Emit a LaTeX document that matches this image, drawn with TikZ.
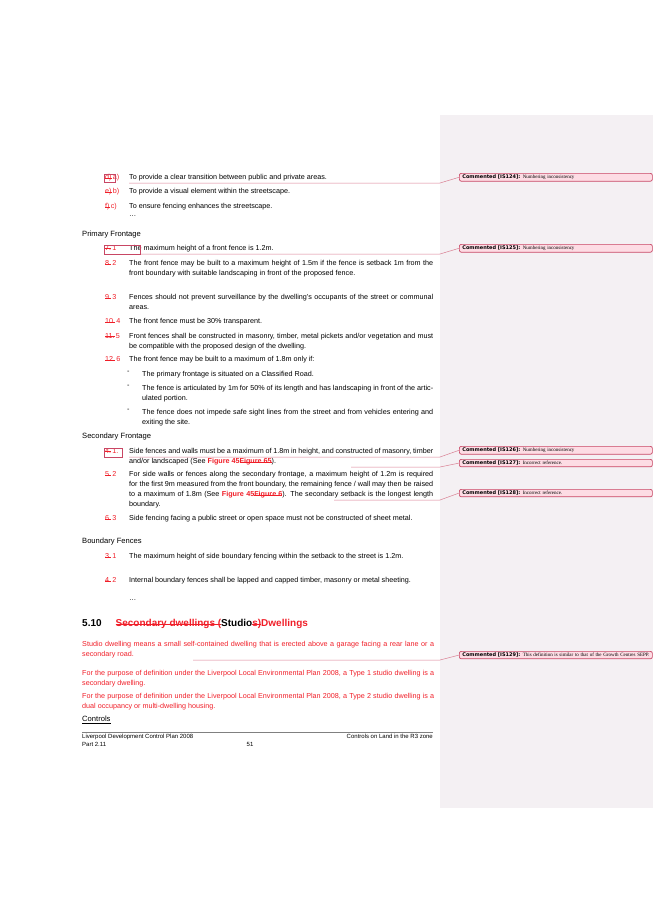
\documentclass[tikz,border=0pt]{standalone}
\usepackage{fontspec}
\setmainfont{Liberation Sans}
\newfontfamily\noteserif{Liberation Serif}
\newfontfamily\notesans{DejaVu Sans}
\usepackage{xcolor}
\definecolor{notered}{RGB}{200,70,100}
\definecolor{notefill}{RGB}{253,220,228}
\definecolor{panel}{RGB}{244,240,243}
\definecolor{trackred}{RGB}{240,30,40}
\newsavebox{\delbox}
\newcommand*{\strike}[1]{\sbox{\delbox}{#1}\rlap{\usebox{\delbox}}\rule[0.33ex]{\wd\delbox}{0.45pt}}
\newcommand*{\del}[1]{\textcolor{trackred}{\strike{#1}}}
\newcommand*{\ins}[1]{\textcolor{trackred}{#1}}
\newcommand*{\figref}[2]{\textcolor{trackred}{\textbf{#1}\strike{\textbf{#2}}}}

\begin{document}
\begin{tikzpicture}[x=1pt,y=-1pt,
  txt/.style={anchor=north west,inner sep=0pt,text width=304pt,align=justify,font=\fontsize{7.2}{10}\selectfont},
  subtxt/.style={txt,text width=291pt},
  num/.style={anchor=north west,inner sep=0pt,font=\fontsize{7.2}{10}\selectfont},
  head/.style={anchor=north west,inner sep=0pt,font=\fontsize{7.6}{10}\selectfont},
  note/.style={draw=notered,fill=notefill,rounded corners=2pt,line width=0.7pt,anchor=north west,
    text width=187pt,inner xsep=3pt,inner ysep=1.5pt,align=left,font=\fontsize{5}{6.5}\noteserif},
  link/.style={draw=notered!70,line width=0.5pt}]
\useasboundingbox(0,0)rectangle(653,923);
%\draw[help lines](0,0)grid[step=50](653,923);
\fill[panel](440,115)rectangle(653,808);

% objectives
\node[num](na)at(105,174){\del{d)}\,\ins{a)}};
\node[txt](ta)at(129,174){To provide a clear transition between public and private areas.};
\node[num](nb)at(105,188){\del{e)}\,\ins{b)}};
\node[txt](tb)at(129,188){To provide a visual element within the streetscape.};
\node[num](nc)at(105,203){\del{f)}\,\ins{c)}};
\node[txt](tc)at(129,203){To ensure fencing enhances the streetscape.};
\node[num](dots1)at(129,215){\dots};

% primary frontage
\node[head](hp)at(82,231){Primary Frontage};
\node[num](p1)at(105,245){\del{7.}\,\ins{1}};
\node[txt](tp1)at(129,245){The maximum height of a front fence is 1.2m.};
\node[num](p2)at(105,260){\del{8.}\,\ins{2}};
\node[txt](tp2)at(129,260){The front fence may be built to a maximum height of 1.5m if the fence is setback 1m from the front boundary with suitable landscaping in front of the proposed fence.};
\node[num](p3)at(105,294){\del{9.}\,\ins{3}};
\node[txt](tp3)at(129,294){Fences should not prevent surveillance by the dwelling's occupants of the street or communal areas.};
\node[num](p4)at(105,318){\del{10.}\,\ins{4}};
\node[txt](tp4)at(129,318){The front fence must be 30\% transparent.};
\node[num](p5)at(105,333){\del{11.}\,\ins{5}};
\node[txt](tp5)at(129,333){Front fences shall be constructed in masonry, timber, metal pickets and/or vegetation and must be compatible with the proposed design of the dwelling.};
\node[num](p6)at(105,356){\del{12.}\,\ins{6}};
\node[txt](tp6)at(129,356){The front fence may be built to a maximum of 1.8m only if:};
\foreach\y/\t in{371/{The primary frontage is situated on a Classified Road.},
  385/{The fence is articulated by 1m for 50\% of its length and has landscaping in front of the articulated portion.},
  409/{The fence does not impede safe sight lines from the street and from vehicles entering and exiting the site.}}{
  \node[num]at(127,\y){-};
  \node[subtxt]at(142,\y){\t};
}

% secondary frontage
\node[head](hs)at(82,433){Secondary Frontage};
\node[num](s1)at(105,448){\del{4.}\,\ins{1.}};
\node[txt](ts1)at(129,448){Side fences and walls must be a maximum of 1.8m in height, and constructed of masonry, timber and/or landscaped (See \figref{Figure 45}{Figure 65}).};
\node[num](s2)at(105,471){\del{5.}\,\ins{2}};
\node[txt](ts2)at(129,471){For side walls or fences along the secondary frontage, a maximum height of 1.2m is required for the first 9m measured from the front boundary, the remaining fence / wall may then be raised to a maximum of 1.8m (See \figref{Figure 45}{Figure 6}). The secondary setback is the longest length boundary.};
\node[num](s3)at(105,515){\del{6.}\,\ins{3}};
\node[txt](ts3)at(129,515){Side fencing facing a public street or open space must not be constructed of sheet metal.};

% boundary fences
\node[head](hb)at(82,538){Boundary Fences};
\node[num](b1)at(105,553){\del{3.}\,\ins{1}};
\node[txt](tb1)at(129,553){The maximum height of side boundary fencing within the setback to the street is 1.2m.};
\node[num](b2)at(105,577){\del{4.}\,\ins{2}};
\node[txt](tb2)at(129,577){Internal boundary fences shall be lapped and capped timber, masonry or metal sheeting.};
\node[num](dots2)at(129,599){\dots};

% section 5.10
\node[anchor=north west,inner sep=0pt,font=\fontsize{10}{12}\selectfont\bfseries](h510)at(82,619)
  {5.10\hspace{14pt}\del{Secondary dwellings (}Studio\del{s)}\ins{ Dwellings}};
\node[txt,text width=352pt,text=trackred](d1)at(82,641){Studio dwelling means a small self-contained dwelling that is erected above a garage facing a rear lane or a secondary road.};
\node[txt,text width=352pt,text=trackred](d2)at(82,670){For the purpose of definition under the Liverpool Local Environmental Plan 2008, a Type 1 studio dwelling is a secondary dwelling.};
\node[txt,text width=352pt,text=trackred](d3)at(82,693){For the purpose of definition under the Liverpool Local Environmental Plan 2008, a Type 2 studio dwelling is a dual occupancy or multi-dwelling housing.};
\node[head](hc)at(82,716){\underline{Controls}};

% footer
\draw[gray,line width=0.6pt](82,732)--(433,732);
\node[anchor=north west,inner sep=0pt,font=\fontsize{6}{8}\selectfont,align=left](f1)at(82,734){Liverpool Development Control Plan 2008\\Part 2.11};
\node[anchor=north,inner sep=0pt,font=\fontsize{6}{8}\selectfont](f2)at(250,742){51};
\node[anchor=north east,inner sep=0pt,font=\fontsize{6}{8}\selectfont](f3)at(433,734){Controls on Land in the R3 zone};

% comments
\node[note](c124)at(459,173){{\notesans\bfseries Commented [IS124]:} Numbering inconsistency};
\node[note](c125)at(459,244){{\notesans\bfseries Commented [IS125]:} Numbering inconsistency};
\node[note](c126)at(459,446){{\notesans\bfseries Commented [IS126]:} Numbering inconsistency};
\node[note](c127)at(459,459){{\notesans\bfseries Commented [IS127]:} Incorrect reference.};
\node[note](c128)at(459,489){{\notesans\bfseries Commented [IS128]:} Incorrect reference.};
\node[note](c129)at(459,651){{\notesans\bfseries Commented [IS129]:} This definition is similar to that of the Growth Centres SEPP.};

\coordinate(k124)at(129,183);\coordinate(k125)at(140,254);\coordinate(k126)at(129,457);
\coordinate(k127)at(351,467);\coordinate(k128)at(334,500);\coordinate(k129)at(193,660);
\foreach\c in{124,125,126,127,128,129}
  \draw[link](k\c)--(k\c-|440,0)--(c\c.west);
\draw[notered,line width=0.5pt](104,174)rectangle(115,182);
\draw[notered,line width=0.5pt](104,245)rectangle(140,254);
\draw[notered,line width=0.5pt](104,448)rectangle(122,457);
\end{tikzpicture}
\end{document}
